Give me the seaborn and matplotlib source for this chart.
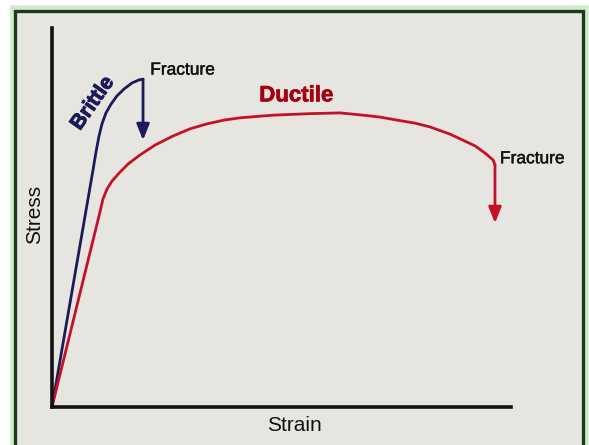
import matplotlib
matplotlib.use("Agg")
import matplotlib.pyplot as plt
import matplotlib.patheffects as pe
import seaborn as sns
import pandas as pd
from matplotlib.patches import Rectangle

sns.set_theme(style="white")
plt.rcParams['font.family'] = ['Liberation Sans', 'DejaVu Sans']

# Brittle stress-strain curve (arbitrary units, axis length = 100)
brittle_strain = [0, 8.93, 9.59, 10.24, 10.89, 11.76, 12.85, 14.16, 15.69, 17.43, 18.95, 19.83]
brittle_stress = [0, 62.5, 67.3, 71.5, 74.7, 77.6, 79.9, 82.1, 83.9, 85.5, 86.3, 86.5]
brittle_fracture = (19.83, 86.5, 70.4)   # strain, start stress, arrow end stress

# Ductile stress-strain curve
ductile_strain = [0, 10.46, 11.11, 11.98, 13.07, 14.6, 16.56, 19.17, 22.44, 26.36,
                  30.07, 33.77, 37.47, 40.96, 48.15, 56.21, 62.75, 67.76, 71.46,
                  75.16, 79.08, 82.35, 86.71, 89.54, 92.16, 94.34, 96.08, 96.51]
ductile_stress = [0, 51.5, 54.9, 57.5, 59.6, 61.7, 64.1, 66.5, 69.1, 71.5,
                  73.4, 74.7, 75.7, 76.3, 77.0, 77.4, 77.6, 77.0, 76.5,
                  75.7, 74.9, 73.9, 72.0, 70.4, 68.9, 67.0, 65.2, 63.9]
ductile_fracture = (96.51, 63.9, 48.5)

labels = {"brittle": "Brittle", "ductile": "Ductile", "fracture": "Fracture",
          "x": "Strain", "y": "Stress"}

W, H = 589, 445
fig = plt.figure(figsize=(W / 100, H / 100), dpi=100)
fig.patch.set_facecolor("white")

# frame (light green halo + dark green border + light grey fill)
fig.patches.append(Rectangle((12.5 / W, -0.05), 573 / W, (H - 7.5) / H + 0.05,
                             transform=fig.transFigure, facecolor="none",
                             edgecolor="#d3e8d0", linewidth=4, zorder=0))
fig.patches.append(Rectangle((15 / W, -0.05), 568 / W, (H - 10.5) / H + 0.05,
                             transform=fig.transFigure, facecolor="#e7e5df",
                             edgecolor="#1d3a1d", linewidth=2.4, zorder=1))

ax = fig.add_axes([52 / W, (H - 407) / H, (511 - 52) / W, (407 - 28) / H])
ax.set_zorder(5)
ax.set_facecolor("none")
ax.set_xlim(0, 100)
ax.set_ylim(0, 100)
ax.set_xticks([])
ax.set_yticks([])
for s in ["top", "right"]:
    ax.spines[s].set_visible(False)
for s in ["left", "bottom"]:
    ax.spines[s].set_color("#111111")
    ax.spines[s].set_linewidth(2.6)

navy = "#1b1b5c"
red = "#c4112a"

dfb = pd.DataFrame({"strain": brittle_strain, "stress": brittle_stress})
dfd = pd.DataFrame({"strain": ductile_strain, "stress": ductile_stress})
sns.lineplot(data=dfb, x="strain", y="stress", ax=ax, color=navy, linewidth=2.0,
             sort=False, estimator=None)
sns.lineplot(data=dfd, x="strain", y="stress", ax=ax, color=red, linewidth=2.0,
             sort=False, estimator=None)
for ln in ax.lines:
    ln.set_solid_joinstyle("round")

for (xs, y0, y1), c in [(brittle_fracture, navy), (ductile_fracture, red)]:
    ax.annotate("", xy=(xs, y1), xytext=(xs, y0),
                arrowprops=dict(arrowstyle="-|>,head_length=0.8,head_width=0.32",
                                color=c, lw=2.0, shrinkA=0, shrinkB=0),
                annotation_clip=False)

ax.set_xlabel("")
ax.set_ylabel("")
ax.text(8.9, 80.2, labels["brittle"], rotation=55, color=navy, fontsize=15,
        fontweight="bold", ha="center", va="center", rotation_mode="anchor",
        path_effects=[pe.withStroke(linewidth=0.7, foreground=navy)])
ax.text(21.4, 88.9, labels["fracture"], color="#111111", fontsize=12.5,
        ha="left", va="center",
        path_effects=[pe.withStroke(linewidth=0.3, foreground="#111111")])
ax.text(97.6, 65.5, labels["fracture"], color="#111111", fontsize=12.5,
        ha="left", va="center",
        path_effects=[pe.withStroke(linewidth=0.3, foreground="#111111")])
ax.text(53.2, 82.1, labels["ductile"], color="#a50012", fontsize=16,
        fontweight="bold", ha="center", va="center",
        path_effects=[pe.withStroke(linewidth=0.5, foreground="#a50012")])
ax.text(-3.9, 50.7, labels["y"], rotation=90, color="#111111", fontsize=15,
        ha="center", va="center")
ax.text(52.8, -4.8, labels["x"], color="#111111", fontsize=15,
        ha="center", va="center")

fig.savefig("out.png", dpi=100)
